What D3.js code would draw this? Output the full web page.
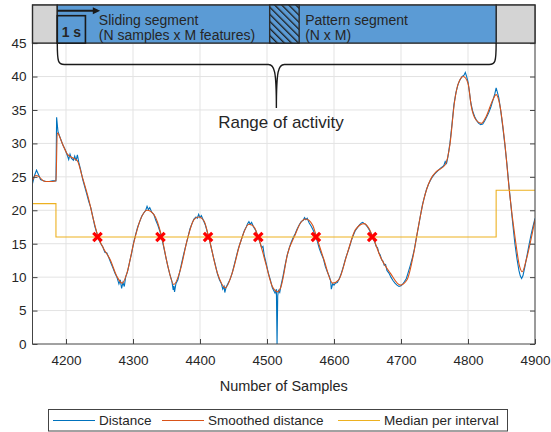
<!DOCTYPE html>
<html>
<head>
<meta charset="utf-8">
<script src="https://cdn.jsdelivr.net/npm/d3@7"></script>
<style>
  body { margin: 0; background: #fff; }
  text { font-family: Arial, "Liberation Sans", sans-serif; fill: #262626; }
</style>
</head>
<body>
<script>
// data: sample index -> distance (raw, noisy)
var distanceX = [4150,4153,4156,4159,4162,4166,4170,4175,4180,4185,4186,4188,4190,4193,4196,4199,4202,4204,4206,4208,
  4211,4213,4215,4217,4219,4222,4225,4228,4231,4234,4237,4240,4243,4246,4249,4252,4255,4258,4261,4264,
  4267,4270,4273,4276,4279,4281,4283,4285,4287,4289,4292,4295,4298,4301,4304,4307,4310,4313,4316,4319,
  4321,4323,4325,4328,4331,4334,4337,4340,4343,4346,4349,4352,4355,4358,4360,4361,4362,4364,4367,4370,
  4373,4376,4379,4382,4385,4388,4391,4394,4396,4398,4400,4402,4405,4408,4411,4414,4417,4420,4423,4426,
  4429,4432,4434,4436,4437,4439,4442,4445,4448,4451,4454,4457,4460,4463,4466,4469,4471,4473,4475,4477,
  4480,4483,4486,4489,4492,4494,4496,4499,4502,4505,4508,4510,4512,4514,4515,4516,4517,4519,4521,4524,
  4527,4530,4533,4536,4539,4542,4545,4548,4551,4554,4556,4558,4560,4563,4566,4569,4572,4575,4578,4581,
  4584,4587,4590,4593,4595,4596,4598,4600,4602,4605,4608,4611,4614,4617,4620,4623,4626,4629,4632,4635,
  4638,4641,4643,4645,4647,4650,4653,4656,4659,4661,4663,4665,4667,4669,4671,4673,4675,4677,4679,4682,
  4685,4688,4691,4694,4697,4700,4702,4705,4708,4711,4714,4717,4720,4723,4726,4729,4732,4735,4738,4741,
  4744,4747,4750,4753,4756,4759,4762,4764,4766,4768,4770,4773,4776,4779,4782,4785,4788,4791,4794,4796,
  4798,4800,4802,4804,4807,4810,4813,4816,4819,4822,4825,4828,4831,4834,4837,4840,4842,4844,4846,4849,
  4852,4855,4858,4861,4864,4867,4870,4873,4876,4878,4880,4882,4885,4888,4891,4894,4897,4900];
var distanceY = [24.0,25.2,26.0,25.3,24.6,24.4,24.3,24.3,24.4,24.4,33.9,31.8,31.2,30.4,29.6,29.0,28.2,27.6,28.4,27.8,
  27.5,28.1,27.4,28.3,27.2,26.0,24.6,23.5,22.4,21.3,20.4,19.0,17.6,16.6,15.6,15.0,14.5,13.7,13.6,12.9,
  12.1,11.4,10.6,10.0,9.0,9.6,8.3,9.2,8.6,10.0,10.9,12.3,13.6,15.2,16.4,17.5,18.3,19.1,19.6,20.0,
  20.6,20.1,20.4,19.7,19.4,18.5,17.8,16.9,15.8,14.4,13.0,11.6,10.4,9.4,8.1,8.7,7.8,9.0,9.6,10.9,
  12.3,13.6,14.8,16.0,17.2,18.0,18.7,19.0,18.8,19.4,18.9,19.2,18.5,17.8,16.7,15.6,14.3,13.0,11.8,10.5,
  9.6,9.0,8.2,8.6,7.7,8.5,9.1,9.7,10.6,11.8,13.0,14.2,15.1,16.0,16.9,17.5,18.0,18.3,17.9,18.2,
  17.5,17.0,16.2,15.3,14.4,14.6,13.2,12.0,10.6,9.6,8.4,8.0,7.6,8.2,0.0,7.2,8.0,7.7,8.8,10.2,
  11.8,13.2,14.3,15.2,15.9,16.5,17.2,17.8,18.3,18.5,18.9,18.6,18.8,18.1,17.6,17.0,16.2,15.4,14.3,13.5,
  12.8,11.6,10.8,10.1,9.4,8.2,9.0,8.8,9.1,9.2,9.8,10.6,11.6,12.7,13.6,14.5,15.5,16.3,17.0,17.4,
  17.8,18.1,18.2,18.0,17.9,17.5,17.0,16.3,15.6,15.2,14.6,14.4,13.6,13.3,12.6,12.4,11.8,11.9,11.0,10.6,
  10.0,9.5,9.1,8.8,8.6,8.7,8.9,9.3,9.8,10.8,11.8,12.9,14.2,15.9,17.5,19.2,20.8,22.0,23.1,23.9,
  24.5,25.0,25.4,25.7,26.0,26.3,26.5,26.7,27.3,27.0,28.0,30.0,32.8,35.8,37.6,38.8,39.5,40.0,40.2,40.6,
  40.0,39.2,37.8,36.2,34.8,34.0,33.4,33.0,32.8,32.9,33.4,34.0,34.6,35.4,36.4,37.4,38.3,37.6,36.8,34.8,
  32.4,29.8,27.0,23.8,20.8,17.8,15.0,12.8,11.0,10.2,9.8,10.2,11.6,13.2,14.8,16.3,17.6,18.8];

// smoothed distance
var smoothX = [4150,4155,4160,4165,4170,4180,4185,4187,4194,4202,4209,4217,4224,4234,4241,4248,4256,4266,4276,4284,
  4291,4301,4311,4321,4331,4343,4351,4361,4371,4381,4391,4398,4406,4413,4426,4438,4448,4460,4473,4480,
  4487,4498,4508,4516,4521,4531,4541,4550,4558,4568,4574,4585,4598,4607,4620,4632,4645,4652,4658,4669,
  4684,4699,4709,4719,4726,4734,4744,4753,4766,4773,4780,4785,4793,4800,4805,4812,4820,4827,4837,4842,
  4847,4855,4862,4870,4877,4881,4887,4895,4900];
var smoothY = [24.5,25.2,25.0,24.5,24.3,24.3,24.4,31.6,30.1,28.4,27.9,27.4,25.1,21.6,18.6,16.0,14.3,12.6,10.1,9.1,
  10.6,15.1,18.6,20.0,19.4,16.0,12.1,8.9,11.2,15.6,18.6,19.0,18.4,16.0,10.6,8.4,10.6,15.1,17.9,17.6,
  16.0,12.1,8.6,7.8,8.6,13.6,16.1,18.1,18.7,17.8,16.0,12.6,9.1,9.6,13.6,17.1,18.0,17.3,16.0,13.1,
  10.6,8.8,9.6,13.6,17.6,21.6,24.6,25.8,26.8,29.8,36.3,38.8,40.0,39.0,35.5,33.5,33.0,34.0,36.5,37.3,
  36.0,30.0,22.6,16.1,11.6,10.8,12.6,16.1,18.6];

// median per interval (step)
var medianBreaks = [4150, 4185, 4842, 4900];
var medianValues = [21, 16, 23];

// detected pattern crossings
var crossX = [4247, 4341, 4412, 4487, 4573, 4657];
var crossY = [16, 16, 16, 16, 16, 16];

// annotation ranges (in samples)
var activityRange = [4187, 4842];
var windowRange = [4187, 4229];
var patternRange = [4504, 4548];

var xTicks = [4200, 4300, 4400, 4500, 4600, 4700, 4800, 4900];
var yTicks = [0, 5, 10, 15, 20, 25, 30, 35, 40, 45];

var legendLabels = ["Distance", "Smoothed distance", "Median per interval"];

var colors = { distance: "#0072BD",
               smooth: "#D95319",
               median: "#EDB120",
               cross: "#FF0000",
               banner: "#5B9BD5",
               idle: "#D4D4D4",
               grid: "#E3E3E3",
               axis: "#444" };

var width = 551, height = 432;
var margin = {top: 5, right: 16, bottom: 88, left: 32.5};

var x = d3.scaleLinear()
  .domain([4150, 4900])
  .range([margin.left, width - margin.right]);

var y = d3.scaleLinear()
  .domain([0, 50.7])
  .range([height - margin.bottom, margin.top]);

var svg = d3.select("body")
  .append("svg")
  .attr("width", width)
  .attr("height", height);

svg.append("defs").append("clipPath")
  .attr("id", "plotclip")
  .append("rect")
  .attr("x", x(4150)).attr("y", y(50.7))
  .attr("width", x(4900) - x(4150))
  .attr("height", y(0) - y(50.7));

/* hatch runs top-left to bottom-right */
var hatch = svg.select("defs").append("pattern")
  .attr("id", "hatch")
  .attr("patternUnits", "userSpaceOnUse")
  .attr("width", 5).attr("height", 5)
  .attr("patternTransform", "rotate(-45)");
hatch.append("rect").attr("width", 5).attr("height", 5).attr("fill", colors.banner);
hatch.append("line")
  .attr("x1", 0).attr("y1", 0).attr("x2", 0).attr("y2", 5)
  .attr("stroke", "#1a1a1a").attr("stroke-width", 2.6);

/* grid */
svg.append("g")
  .selectAll("line")
  .data(xTicks)
  .enter().append("line")
  .attr("x1", d => x(d)).attr("x2", d => x(d))
  .attr("y1", y(0)).attr("y2", y(50.7))
  .attr("stroke", colors.grid);

svg.append("g")
  .selectAll("line")
  .data(yTicks.slice(1))
  .enter().append("line")
  .attr("x1", x(4150)).attr("x2", x(4900))
  .attr("y1", d => y(d)).attr("y2", d => y(d))
  .attr("stroke", colors.grid);

/* lines */
var plot = svg.append("g").attr("clip-path", "url(#plotclip)");

var distLine = d3.line()
  .x(d => x(d[0]))
  .y(d => y(d[1]));

plot.append("path")
  .datum(d3.zip(distanceX, distanceY))
  .attr("d", distLine)
  .attr("fill", "none")
  .attr("stroke", colors.distance)
  .attr("stroke-width", 1.1);

plot.append("path")
  .datum(d3.zip(smoothX, smoothY))
  .attr("d", distLine.curve(d3.curveMonotoneX))
  .attr("fill", "none")
  .attr("stroke", colors.smooth)
  .attr("stroke-width", 1.1);

var medianPts = medianValues.map((v, i) => [medianBreaks[i], v]);
medianPts.push([medianBreaks[medianBreaks.length - 1], medianValues[medianValues.length - 1]]);

plot.append("path")
  .datum(medianPts)
  .attr("d", d3.line().x(d => x(d[0])).y(d => y(d[1])).curve(d3.curveStepAfter))
  .attr("fill", "none")
  .attr("stroke", colors.median)
  .attr("stroke-width", 1.1);

/* crosses */
var cs = 4.2;
svg.append("g")
  .selectAll("path")
  .data(d3.zip(crossX, crossY))
  .enter().append("path")
  .attr("d", d => {
    var cx = x(d[0]), cy = y(d[1]);
    return "M" + (cx - cs) + "," + (cy - cs) + "L" + (cx + cs) + "," + (cy + cs) +
           "M" + (cx - cs) + "," + (cy + cs) + "L" + (cx + cs) + "," + (cy - cs);
  })
  .attr("stroke", colors.cross)
  .attr("stroke-width", 3.2);

/* axes (ticks point inward like matlab) */
var axL = svg.append("g")
  .attr("transform", `translate(${x(4150)},0)`)
  .call(d3.axisLeft(y).tickValues(yTicks).tickSize(-5).tickPadding(6).tickFormat(d3.format("d")));
var axB = svg.append("g")
  .attr("transform", `translate(0,${y(0)})`)
  .call(d3.axisBottom(x).tickValues(xTicks).tickSize(-5).tickPadding(11).tickFormat(d3.format("d")));
var axR = svg.append("g")
  .attr("transform", `translate(${x(4900)},0)`)
  .call(d3.axisRight(y).tickValues(yTicks).tickSize(-5).tickFormat(""));

[axL, axB, axR].forEach(function(a){
  a.select(".domain").remove();
  a.selectAll("line").attr("stroke", colors.axis);
  a.selectAll("text").style("font-size", "13.5px").attr("fill", "#262626");
});

svg.append("rect")
  .attr("x", x(4150)).attr("y", y(50.7))
  .attr("width", x(4900) - x(4150))
  .attr("height", y(0) - y(50.7))
  .attr("fill", "none")
  .attr("stroke", colors.axis);

/* banner: idle / activity / pattern */
var banner = svg.append("g");
var bTop = 50.7, bBot = 45;

banner.append("rect")
  .attr("x", x(4150)).attr("y", y(bTop))
  .attr("width", x(activityRange[0]) - x(4150)).attr("height", y(bBot) - y(bTop))
  .attr("fill", colors.idle);
banner.append("rect")
  .attr("x", x(activityRange[1])).attr("y", y(bTop))
  .attr("width", x(4900) - x(activityRange[1])).attr("height", y(bBot) - y(bTop))
  .attr("fill", colors.idle);
banner.append("rect")
  .attr("x", x(activityRange[0])).attr("y", y(bTop))
  .attr("width", x(activityRange[1]) - x(activityRange[0])).attr("height", y(bBot) - y(bTop))
  .attr("fill", colors.banner);
banner.append("rect")
  .attr("x", x(patternRange[0])).attr("y", y(bTop))
  .attr("width", x(patternRange[1]) - x(patternRange[0])).attr("height", y(bBot) - y(bTop))
  .attr("fill", "url(#hatch)");
banner.selectAll("rect")
  .attr("stroke", "#2b2b2b").attr("stroke-width", 1.4);

/* 1 s window */
banner.append("rect")
  .attr("x", x(windowRange[0])).attr("y", y(49.1))
  .attr("width", x(windowRange[1]) - x(windowRange[0])).attr("height", y(bBot) - y(49.1))
  .attr("fill", colors.banner)
  .attr("stroke", "#1a1a1a").attr("stroke-width", 1.6);
banner.append("text")
  .attr("x", (x(windowRange[0]) + x(windowRange[1])) / 2)
  .attr("y", y(bBot) - 6.5)
  .attr("text-anchor", "middle")
  .style("font-size", "14px").style("font-weight", "bold")
  .attr("fill", "#1a1a1a")
  .text("1 s");

/* arrow */
var ay = y(49.85);
banner.append("line")
  .attr("x1", x(windowRange[0])).attr("x2", x(4243))
  .attr("y1", ay).attr("y2", ay)
  .attr("stroke", "#1a1a1a").attr("stroke-width", 2);
banner.append("path")
  .attr("d", `M${x(4251)},${ay} L${x(4240)},${ay - 3.5} L${x(4240)},${ay + 3.5} Z`)
  .attr("fill", "#1a1a1a");

banner.append("text").attr("x", x(4249)).attr("y", 25)
  .style("font-size", "14px").attr("fill", "#1a1a1a").text("Sliding segment");
banner.append("text").attr("x", x(4249)).attr("y", 39.5)
  .style("font-size", "14px").attr("fill", "#1a1a1a").text("(N samples x M features)");
banner.append("text").attr("x", x(4557)).attr("y", 25)
  .style("font-size", "14px").attr("fill", "#1a1a1a").text("Pattern segment");
banner.append("text").attr("x", x(4557)).attr("y", 39.5)
  .style("font-size", "14px").attr("fill", "#1a1a1a").text("(N x M)");

/* brace under the activity range */
var bx0 = x(activityRange[0]), bx1 = x(activityRange[1]);
var bm = x(4514), by0 = y(bBot), by1 = y(41.8), by2 = y(35.3);
svg.append("path")
  .attr("d", `M${bx0},${by0} C${bx0},${by1 - 2} ${bx0 + 1},${by1} ${bx0 + 7},${by1}
              L${bm - 8},${by1} C${bm - 2},${by1} ${bm},${by1 + 6} ${bm},${by2}
              C${bm},${by1 + 6} ${bm + 2},${by1} ${bm + 8},${by1}
              L${bx1 - 7},${by1} C${bx1 - 1},${by1} ${bx1},${by1 - 2} ${bx1},${by0}`)
  .attr("fill", "none")
  .attr("stroke", "#1a1a1a")
  .attr("stroke-width", 1.4);

svg.append("text")
  .attr("x", 281).attr("y", 128)
  .attr("text-anchor", "middle")
  .style("font-size", "17px")
  .attr("fill", "#111")
  .text("Range of activity");

/* x axis title */
svg.append("text")
  .attr("x", (x(4150) + x(4900)) / 2).attr("y", 391)
  .attr("text-anchor", "middle")
  .style("font-size", "14.5px")
  .text("Number of Samples");

/* legend */
var legend = svg.append("g");
legend.append("rect")
  .attr("x", 48.5).attr("y", 409.5)
  .attr("width", 459).attr("height", 21.5)
  .attr("fill", "#fff")
  .attr("stroke", colors.axis);

var legendColors = [colors.distance, colors.smooth, colors.median];
var legendX = [53, 162, 338];
var item = legend.selectAll("g.item")
  .data(legendLabels)
  .enter().append("g")
  .attr("class", "item")
  .attr("transform", (d, i) => `translate(${legendX[i]},420.5)`);
item.append("line")
  .attr("x1", 0).attr("x2", 42)
  .attr("stroke", (d, i) => legendColors[i])
  .attr("stroke-width", 1.2);
item.append("text")
  .attr("x", 46).attr("dy", "0.35em")
  .style("font-size", "13.5px")
  .text(d => d);
</script>
</body>
</html>
